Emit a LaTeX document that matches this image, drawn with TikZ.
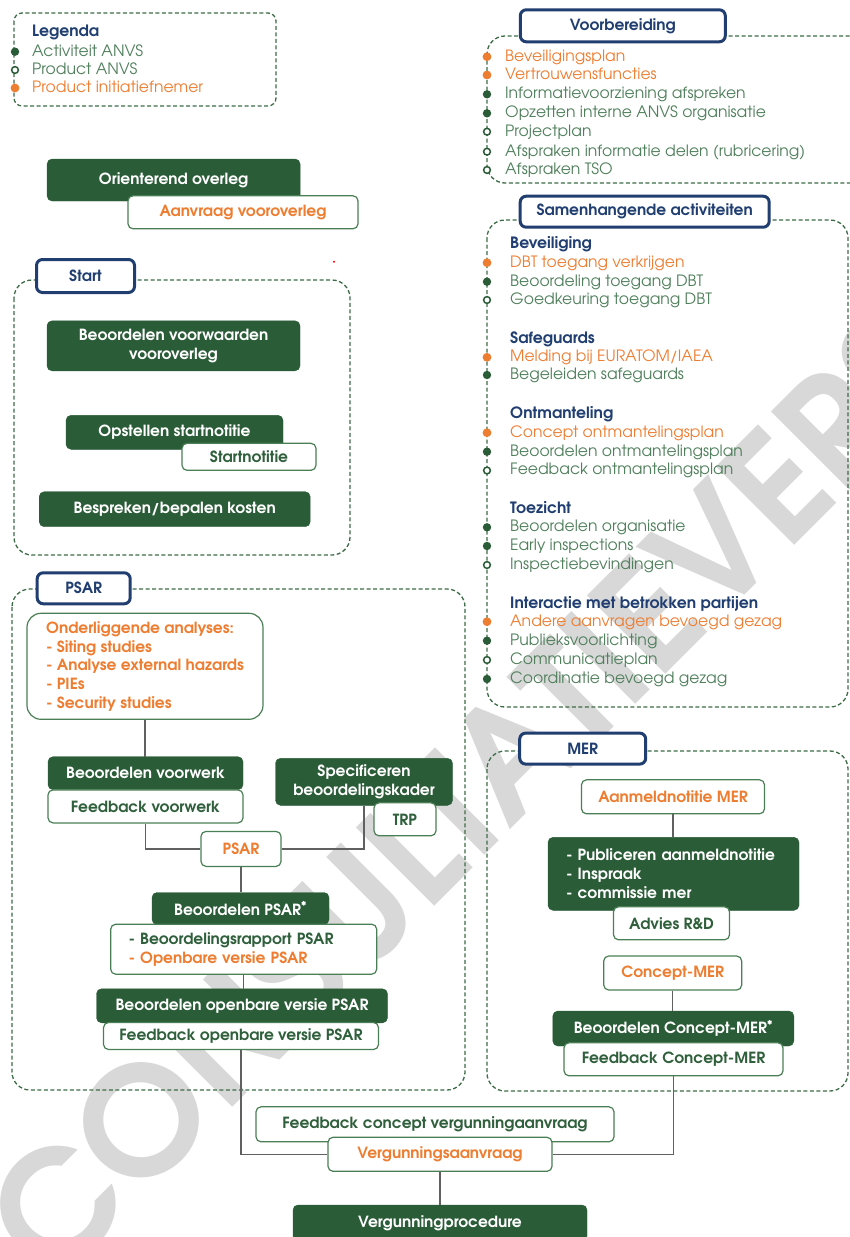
\documentclass[tikz,border=0pt]{standalone}
\usepackage{fontspec}
\setmainfont{texgyreadventor}[Extension=.otf, UprightFont=*-regular, BoldFont=*-bold, ItalicFont=*-italic, BoldItalicFont=*-bolditalic]
\definecolor{dgreen}{HTML}{2A5C37}
\definecolor{bgreen}{HTML}{4A7F56}
\definecolor{boxtxt}{HTML}{2F5F3B}
\definecolor{tgreen}{HTML}{4F7F5B}
\definecolor{orng}{HTML}{ED7D31}
\definecolor{navy}{HTML}{203E70}
\definecolor{frm}{HTML}{3D6C47}
\definecolor{connc}{HTML}{606060}
\definecolor{wmc}{HTML}{D8D8D8}
\newcommand\fsb{\fontsize{15.4}{18.7}\selectfont}
\newcommand\fsr{\fontsize{15.6}{19}\selectfont}
\tikzset{
  act/.style={fill=dgreen, draw=dgreen, rounded corners=5pt, text=white, font=\bfseries\fsb, inner sep=0pt, align=center},
  prod/.style={fill=white, draw=bgreen, line width=1.2pt, rounded corners=5pt, text=boxtxt, font=\bfseries\fsb, inner sep=0pt, align=center},
  prodo/.style={prod, text=orng},
  lab/.style={fill=white, draw=navy, line width=3pt, rounded corners=6pt, text=navy, font=\bfseries\fsb, inner sep=0pt},
  frame/.style={draw=frm, dash pattern=on 4pt off 2.5pt, line width=1.3pt, rounded corners=18pt},
  conn/.style={draw=connc, line width=1.2pt},
  item/.style={anchor=base west, inner sep=0pt, font=\fsr, text=tgreen},
  itemo/.style={item, text=orng},
  head/.style={item, font=\bfseries\fsr, text=navy},
  wm/.style={text=wmc, font=\bfseries\fontsize{150}{150}\selectfont, inner sep=0pt}
}
\newcommand\dotf[1]{\fill[dgreen] (#1) circle (4.2pt);}
\newcommand\doto[1]{\fill[orng] (#1) circle (4.4pt);}
\newcommand\doth[1]{\filldraw[draw=dgreen, fill=white, line width=1.5pt] (#1) circle (3.4pt);}
\begin{document}
\begin{tikzpicture}[x=1pt,y=-1pt]
\useasboundingbox (0,0) rectangle (849,1237);
\fill[white] (0,0) rectangle (849,1237);
% watermark
\node[wm, rotate=45] (watermark) at (510,752) {CONSULTATIEVERSIE};

% ---------- Legend ----------
\draw[frame, rounded corners=8pt] (14,13) rectangle (276,106);
\node[head] (leg) at (32,36.2) {Legenda};
\node[item] (leg1) at (32,56.2) {Activiteit ANVS};
\node[item] (leg2) at (32,74.5) {Product ANVS};
\node[itemo] (leg3) at (32,92.5) {Product initiatiefnemer};
\dotf{15,51.7}\doth{15,70}\doto{15,88}

% ---------- Voorbereiding ----------
\draw[frame] (487,36) rectangle (880,183);
\node[lab, minimum width=205pt, minimum height=32pt] (voorlab) at (622.8,25.8) {Voorbereiding};
\node[itemo] (v1) at (505,61.2) {Beveiligingsplan};
\node[itemo] (v2) at (505,79.5) {Vertrouwensfuncties};
\node[item] (v3) at (505,98.8) {Informatievoorziening afspreken};
\node[item] (v4) at (505,117.8) {Opzetten interne ANVS organisatie};
\node[item] (v5) at (505,136.2) {Projectplan};
\node[item] (v6) at (505,156.2) {Afspraken informatie delen (rubricering)};
\node[item] (v7) at (505,174.5) {Afspraken TSO};
\doto{487,56.7}\doto{487,75}\dotf{487,94.3}\dotf{487,113.3}\doth{487,131.7}\doth{487,151.7}\doth{487,170}

% ---------- Samenhangende activiteiten ----------
\draw[frame] (487,220) rectangle (848,707);
\node[lab, minimum width=249pt, minimum height=31pt] (samlab) at (644.7,211.7) {Samenhangende activiteiten};
\node[head] (s0) at (510,248.5) {Beveiliging};
\node[itemo] (s1) at (510,267.2) {DBT toegang verkrijgen};
\node[item] (s2) at (510,286.2) {Beoordeling toegang DBT};
\node[item] (s3) at (510,304.5) {Goedkeuring toegang DBT};
\node[head] (s4) at (510,343.5) {Safeguards};
\node[itemo] (s5) at (510,361.8) {Melding bij EURATOM/IAEA};
\node[item] (s6) at (510,379.5) {Begeleiden safeguards};
\node[head] (s7) at (510,418.5) {Ontmanteling};
\node[itemo] (s8) at (510,437.2) {Concept ontmantelingsplan};
\node[item] (s9) at (510,456.2) {Beoordelen ontmantelingsplan};
\node[item] (s10) at (510,474.8) {Feedback ontmantelingsplan};
\node[head] (s11) at (510,513.5) {Toezicht};
\node[item] (s12) at (510,531.8) {Beoordelen organisatie};
\node[item] (s13) at (510,550.5) {Early inspections};
\node[item] (s14) at (510,569.5) {Inspectiebevindingen};
\node[head] (s15) at (510,608.5) {Interactie met betrokken partijen};
\node[itemo] (s16) at (510,626.2) {Andere aanvragen bevoegd gezag};
\node[item] (s17) at (510,645.2) {Publieksvoorlichting};
\node[item] (s18) at (510,664.5) {Communicatieplan};
\node[item] (s19) at (510,683.5) {Coordinatie bevoegd gezag};
\doto{487,262.7}\dotf{487,281.7}\doth{487,300}
\doto{487,357.3}\dotf{487,375}
\doto{487,432.7}\dotf{487,451.7}\doth{487,470.5}
\dotf{487,527.3}\dotf{487,546}\doth{487,565}
\doto{487,621.7}\dotf{487,640.7}\doth{487,660}\dotf{487,679}

% ---------- top left ----------
\node[act, minimum width=253pt, minimum height=42pt] (orient) at (173.6,180) {Orienterend overleg};
\node[prodo, minimum width=230pt, minimum height=33pt] (aanvraag) at (243,212.3) {Aanvraag vooroverleg};

% ---------- Start ----------
\draw[frame] (14,280) rectangle (350,555);
\fill[red] (334,261.7) circle (1.2pt);
\node[lab, minimum width=98pt, minimum height=33pt] (startlab) at (85.5,276) {Start};
\node[act, minimum width=253pt, minimum height=50pt] (bvv) at (173.5,345.8) {Beoordelen voorwaarden\\vooroverleg};
\node[act, minimum width=217pt, minimum height=34pt] (opst) at (174.5,432.3) {Opstellen startnotitie};
\node[prod, minimum width=134pt, minimum height=27pt] (startnot) at (249,456.8) {Startnotitie};
\node[act, minimum width=271pt, minimum height=35pt] (kosten) at (174.7,509.2) {Bespreken/bepalen kosten};

% ---------- PSAR ----------
\draw[frame] (12,589) rectangle (465,1090);
\node[lab, minimum width=93pt, minimum height=31pt] (psarlab) at (83.7,588.3) {PSAR};
\node[prod, rounded corners=14pt, minimum width=236pt, minimum height=106pt, align=left, text=orng] (onder) at (145,666.3)
  {Onderliggende analyses:\\- Siting studies\\- Analyse external hazards\\- PIEs\\- Security studies};
\node[act, minimum width=195pt, minimum height=33pt] (bvw) at (145.5,773.2) {Beoordelen voorwerk};
\node[prod, minimum width=195pt, minimum height=33pt] (fbvw) at (145.5,806.4) {Feedback voorwerk};
\node[act, minimum width=177pt, minimum height=47pt] (spec) at (364,781.8) {Specificeren\\beoordelingskader};
\node[prod, minimum width=62pt, minimum height=33pt] (trp) at (405,819.3) {TRP};
\node[prodo, minimum width=80pt, minimum height=35pt] (psar) at (241,848.9) {PSAR};
\node[act, minimum width=177pt, minimum height=32pt] (bpsar) at (240.5,908.5) {Beoordelen PSAR\textsuperscript{*}};
\node[prod, minimum width=266pt, minimum height=50pt, text width=230.4pt, align=left] (bpsarout) at (243.7,949.2)
  {- Beoordelingsrapport PSAR\\{\color{orng}- Openbare versie PSAR}};
\node[act, minimum width=291pt, minimum height=34pt] (bopen) at (242,1005.8) {Beoordelen openbare versie PSAR};
\node[prod, minimum width=275pt, minimum height=27pt] (fbopen) at (241,1036) {Feedback openbare versie PSAR};

% ---------- MER ----------
\draw[frame] (487,751) rectangle (848,1091);
\node[lab, minimum width=126pt, minimum height=31pt] (merlab) at (582.7,748.6) {MER};
\node[prodo, minimum width=183pt, minimum height=34pt] (aanmeld) at (673,796.8) {Aanmeldnotitie MER};
\node[act, minimum width=251pt, minimum height=73pt, text width=215pt, align=left] (publ) at (673.5,873.8)
  {- Publiceren aanmeldnotitie\\- Inspraak\\- commissie mer};
\node[prod, minimum width=116pt, minimum height=33pt] (advies) at (671.5,923.3) {Advies R\&D};
\node[prodo, minimum width=138pt, minimum height=34pt] (cmer) at (672.7,973) {Concept-MER};
\node[act, minimum width=241pt, minimum height=35pt] (bcmer) at (673.3,1028.5) {Beoordelen Concept-MER\textsuperscript{*}};
\node[prod, minimum width=219pt, minimum height=33pt] (fbcmer) at (673.5,1059.3) {Feedback Concept-MER};

% ---------- bottom ----------
\node[prod, minimum width=358pt, minimum height=35pt] (fbcv) at (435,1124.3) {Feedback concept vergunningaanvraag};
\node[prodo, minimum width=224pt, minimum height=34pt] (verg) at (440,1154.3) {Vergunningsaanvraag};
\node[act, minimum width=294pt, minimum height=36pt] (proc) at (440,1223) {Vergunningprocedure};

% ---------- connectors ----------
\draw[conn] (onder.south) -- (onder.south |- bvw.north);
\draw[conn] (fbvw.south) |- (psar.west);
\draw[conn] (psar.east) -| (spec.south);
\draw[conn] (psar.south) -- (psar.south |- bpsar.north);
\draw[conn] (bpsarout.south) -- (bpsarout.south |- bopen.north);
\draw[conn] (fbopen.south) |- (verg.west);
\draw[conn] (aanmeld.south) -- (aanmeld.south |- publ.north);
\draw[conn] (cmer.south) -- (cmer.south |- bcmer.north);
\draw[conn] (fbcmer.south) |- (verg.east);
\draw[conn] (verg.south) -- (proc.north);
\end{tikzpicture}
\end{document}
